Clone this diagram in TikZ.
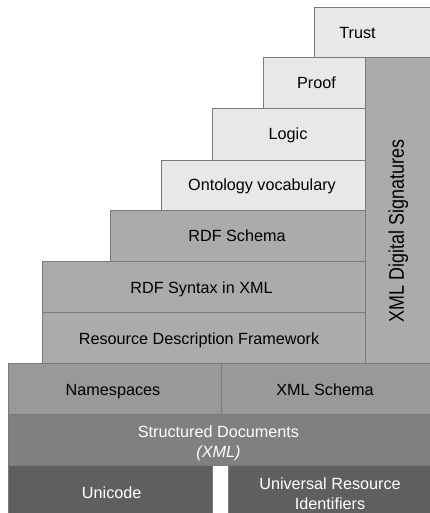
\documentclass[tikz,border=0pt]{standalone}
\usepackage{fontspec}
\setmainfont{Liberation Sans}
\definecolor{lightbox}{HTML}{E8E8E8}
\definecolor{midbox}{HTML}{ABABAB}
\definecolor{nsbox}{HTML}{999999}
\definecolor{sdbox}{HTML}{808080}
\definecolor{darkbox}{HTML}{5F5F5F}
\definecolor{edge}{HTML}{7A7A7A}
\tikzset{
  layer/.style={draw=edge, line width=0.8pt, inner sep=0pt, outer sep=0pt, anchor=north west},
  txt/.style={inner sep=0pt, outer sep=0pt, align=center, font=\fontsize{16.2}{19.8}\selectfont, text height=11.6pt, text depth=0pt},
  txtm/.style={inner sep=0pt, outer sep=0pt, align=center, font=\fontsize{16.2}{19.8}\selectfont}
}
\begin{document}
\begin{tikzpicture}[x=1pt,y=-1pt]
\useasboundingbox (0,0) rectangle (430,513);
\clip (0,0) rectangle (430,513);
\fill[white] (0,0) rectangle (430,513);
% boxes
\node[layer, fill=lightbox, minimum width=125pt, minimum height=50.2pt] (trust) at (314,7.3) {};
\node[layer, fill=lightbox, minimum width=101.9pt, minimum height=50.8pt] (proof) at (263.3,57.5) {};
\node[layer, fill=midbox, minimum width=75pt, minimum height=305.8pt] (sig) at (365.2,57.5) {};
\node[layer, fill=lightbox, minimum width=152.9pt, minimum height=51.7pt] (logic) at (212.3,108.3) {};
\node[layer, fill=lightbox, minimum width=203.5pt, minimum height=50pt] (onto) at (161.7,160) {};
\node[layer, fill=midbox, minimum width=255.2pt, minimum height=51pt] (rdfs) at (110,210) {};
\node[layer, fill=midbox, minimum width=322.9pt, minimum height=51.3pt] (rdfsyn) at (42.3,261) {};
\node[layer, fill=midbox, minimum width=322.9pt, minimum height=51pt] (rdf) at (42.3,312.3) {};
\node[layer, fill=nsbox, minimum width=212.7pt, minimum height=50.7pt] (ns) at (8.3,363.3) {};
\node[layer, fill=nsbox, minimum width=220pt, minimum height=50.7pt] (xsd) at (221,363.3) {};
\node[layer, fill=sdbox, minimum width=430pt, minimum height=51pt] (sd) at (8.3,414) {};
\node[layer, fill=darkbox, minimum width=204pt, minimum height=60pt] (uni) at (8.3,465) {};
\node[layer, fill=darkbox, minimum width=210pt, minimum height=60pt] (uri) at (228.7,465) {};
% labels
\node[txt] (ttrust) at (357.5,32.5) {Trust};
\node[txt] (tproof) at (316.5,83) {Proof};
\node[txt] (tlogic) at (288,134) {Logic};
\node[txt] (tonto) at (262,185) {Ontology vocabulary};
\node[txt] (trdfs) at (237,236) {RDF Schema};
\node[txt] (trdfsyn) at (201.5,287.5) {RDF Syntax in XML};
\node[txt] (trdf) at (199,338.5) {Resource Description Framework};
\node[inner sep=0pt, outer sep=0pt, rotate=90, font=\fontsize{17.9}{20}\selectfont, text height=12.8pt, text depth=0pt] (tsig) at (397.5,231) {\scalebox{1}[1.18]{XML Digital Signatures}};
\node[txt] (tns) at (113,390) {Namespaces};
\node[txt] (txsd) at (325,390) {XML Schema};
\node[txtm, text=white] (tsd) at (218.5,443.4) {Structured Documents\\\textit{(XML)}};
\node[txt, text=white] (tuni) at (111.7,492.7) {Unicode};
\node[txtm, text=white] (turi) at (330,493.5) {Universal Resource\\Identifiers};
\end{tikzpicture}
\end{document}
